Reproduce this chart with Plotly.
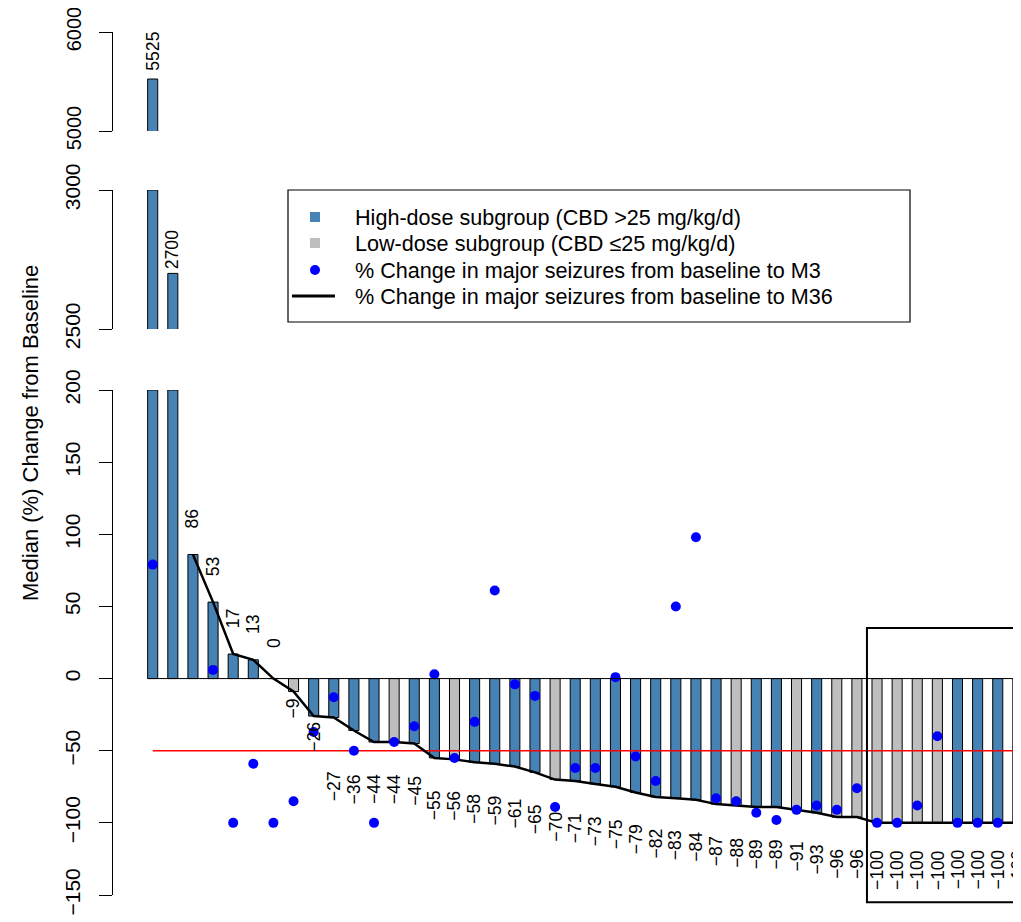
import numpy as np
import plotly.graph_objects as go

# ---------------- data ----------------
patients = list(range(1, 45))
m36_change = [5525, 2700, 86, 53, 17, 13, 0, -9, -26, -27, -36, -44, -44, -45,
              -55, -56, -58, -59, -61, -65, -70, -71, -73, -75, -79, -82, -83, -84,
              -87, -88, -89, -89, -91, -93, -96, -96,
              -100, -100, -100, -100, -100, -100, -100, -100]
m3_change = [79, 211, 213, 6, -100, -59, -100, -85, -37, -13, -50, -100, -44, -33,
             3, -55, -30, 61, -4, -12, -89, -62, -62, 1, -54, -71, 50, 98,
             -83, -85, -93, -98, -91, -88, -91, -76,
             -100, -100, -88, -40, -100, -100, -100, -100]
dose_group = (["High"] * 7 + ["Low"] + ["High"] * 4 + ["Low"] + ["High"] * 2 + ["Low"]
              + ["High"] * 4 + ["Low"] + ["High"] * 8 + ["Low"] + ["High"] * 2 + ["Low"]
              + ["High"] + ["Low"] * 6 + ["High"] * 4)
legend_labels = ["High-dose subgroup (CBD >25 mg/kg/d)",
                 "Low-dose subgroup (CBD \u226425 mg/kg/d)",
                 "% Change in major seizures from baseline to M3",
                 "% Change in major seizures from baseline to M36"]
y_title = "Median (%) Change from Baseline"
threshold = -50
bottom_ticks = [-150, -100, -50, 0, 50, 100, 150, 200]
middle_ticks = [2500, 3000]
top_ticks = [5000, 6000]

# ---------------- style / layout ----------------
PAGE_OFFSET = 8          # default page margin around the figure
W, H = 1021 - PAGE_OFFSET, 922 - PAGE_OFFSET
FONT = "Liberation Sans, Arial, Helvetica, sans-serif"
BLUE_BAR = "#4682B4"
GRAY_BAR = "#BEBEBE"
colors = {"High": BLUE_BAR, "Low": GRAY_BAR}

def px_x(p):
    return (p - PAGE_OFFSET) / W

def px_y(p):
    return 1 - (p - PAGE_OFFSET) / H

axis_px = 112.5
bar_step = 20.12
first_bar_px = 152.7
x0 = patients[0] - (first_bar_px - axis_px) / bar_step
x_range = [x0, x0 + (1021 - axis_px) / bar_step]
# panels: axis name, range, pixel top, pixel bottom, ticks, tick font size
panels = [
    ("y", (-150, 200), 390, 895, bottom_ticks, 21),
    ("y2", (2500, 3000), 190, 329, middle_ticks, 21),
    ("y3", (5000, 6000), 32, 131, top_ticks, 20),
]

fig = go.Figure()
bar_colors = [colors[d] for d in dose_group]
vals = np.array(m36_change, dtype=float)

for name, (lo, hi), ptop, pbot, ticks, fs in panels:
    mask = vals > lo
    xs = [p for p, m in zip(patients, mask) if m]
    ys = np.minimum(vals[mask], hi)
    cs = [c for c, m in zip(bar_colors, mask) if m]
    fig.add_trace(go.Bar(x=xs, y=ys, width=0.5, yaxis=name, xaxis="x",
                         marker=dict(color=cs, line=dict(color="black", width=1)),
                         showlegend=False, hoverinfo="skip"))

# threshold line
fig.add_trace(go.Scatter(x=[patients[0], patients[-1]], y=[threshold, threshold],
                         mode="lines", line=dict(color="red", width=1.5),
                         yaxis="y", showlegend=False, hoverinfo="skip"))
# M36 line (values within lower panel)
line_idx = [i for i, v in enumerate(m36_change) if v <= 200]
fig.add_trace(go.Scatter(x=[patients[i] for i in line_idx] + [x_range[1]],
                         y=[m36_change[i] for i in line_idx] + [m36_change[-1]],
                         mode="lines", line=dict(color="black", width=2.5),
                         yaxis="y", showlegend=False, hoverinfo="skip"))
# M3 points
fig.add_trace(go.Scatter(x=patients, y=m3_change, mode="markers",
                         marker=dict(color="#0000FF", size=10),
                         cliponaxis=False, yaxis="y", showlegend=False, hoverinfo="skip"))

# axes
layout_axes = {}
for name, (lo, hi), ptop, pbot, ticks, fs in panels:
    key = "yaxis" if name == "y" else "yaxis" + name[1:]
    layout_axes[key] = dict(
        domain=[px_y(pbot), px_y(ptop)], range=[lo, hi], anchor="x", automargin=False,
        tickmode="array", tickvals=ticks, ticktext=[str(t).replace("-", "\u2212") for t in ticks],
        tickangle=-90, ticks="outside", ticklen=13, tickcolor="black", tickwidth=1,
        ticklabelstandoff=10, ticklabeloverflow="allow",
        showline=True, linecolor="black", linewidth=1, showgrid=False, zeroline=False,
        tickfont=dict(family=FONT, size=fs, color="black"), fixedrange=True)

fig.update_layout(
    width=W, height=H, margin=dict(l=0, r=0, t=0, b=0, autoexpand=False),
    paper_bgcolor="white", plot_bgcolor="white", barmode="overlay",
    xaxis=dict(domain=[px_x(axis_px), 1], range=x_range, visible=False, fixedrange=True,
               automargin=False),
    showlegend=False,
    **layout_axes,
)

# bar value labels
manual_shift = {8: -17.5, 9: -21, 10: -69, 11: -59}
annotations = []
for i, v in enumerate(m36_change):
    if v > 3000:
        yref, shift = "y3", 28
    elif v > 200:
        yref, shift = "y2", 24
    else:
        yref = "y"
        shift = 36 if v >= 0 else -47
    shift = manual_shift.get(i + 1, shift)
    txt = str(v) if v >= 0 else "\u2212" + str(abs(v))
    annotations.append(dict(x=patients[i], y=v, xref="x", yref=yref, text=txt,
                            showarrow=False, textangle=-90, yshift=shift,
                            xanchor="center", yanchor="middle",
                            font=dict(family=FONT, size=17.6, color="black")))

# y title
annotations.append(dict(x=px_x(30), y=px_y(433), xref="paper", yref="paper", text=y_title,
                        showarrow=False, textangle=-90, xanchor="center", yanchor="middle",
                        font=dict(family=FONT, size=22, color="black")))

# legend (drawn)
leg_left, leg_right, leg_top, leg_bot = 288, 910, 190, 322
row_y = [217, 243, 270, 296]
shapes = [dict(type="rect", xref="paper", yref="paper",
               x0=px_x(leg_left), x1=px_x(leg_right), y0=px_y(leg_bot), y1=px_y(leg_top),
               line=dict(color="black", width=1.2), fillcolor="white", layer="above")]
for k, col in enumerate([BLUE_BAR, GRAY_BAR]):
    shapes.append(dict(type="rect", xref="paper", yref="paper",
                       x0=px_x(310), x1=px_x(320), y0=px_y(row_y[k] + 5), y1=px_y(row_y[k] - 5),
                       line=dict(width=0), fillcolor=col, layer="above"))
shapes.append(dict(type="circle", xref="paper", yref="paper",
                   x0=px_x(310), x1=px_x(320), y0=px_y(row_y[2] + 5), y1=px_y(row_y[2] - 5),
                   line=dict(width=0), fillcolor="#0000FF", layer="above"))
shapes.append(dict(type="line", xref="paper", yref="paper",
                   x0=px_x(292), x1=px_x(335), y0=px_y(row_y[3]), y1=px_y(row_y[3]),
                   line=dict(color="black", width=3), layer="above"))
for k, lab in enumerate(legend_labels):
    annotations.append(dict(x=px_x(353), y=px_y(row_y[k]), xref="paper", yref="paper",
                            text=lab, showarrow=False, xanchor="left", yanchor="middle",
                            font=dict(family=FONT, size=21.6, color="black")))

# zero line across bars
shapes.append(dict(type="line", xref="x", yref="y", x0=patients[0] - 0.25, x1=x_range[1],
                   y0=0, y1=0, line=dict(color="black", width=1), layer="above"))

# highlight box around complete responders
lo, hi = panels[0][1]
ptop, pbot = panels[0][2], panels[0][3]
def bottom_to_paper(v):
    return px_y(pbot) + (v - lo) / (hi - lo) * (px_y(ptop) - px_y(pbot))
shapes.append(dict(type="rect", xref="x", yref="paper", x0=36.5, x1=x_range[1] + 1,
                   y0=bottom_to_paper(-155), y1=bottom_to_paper(35),
                   line=dict(color="black", width=2), fillcolor="rgba(0,0,0,0)", layer="above"))

fig.update_layout(annotations=annotations, shapes=shapes)
fig.write_html("out.html")
